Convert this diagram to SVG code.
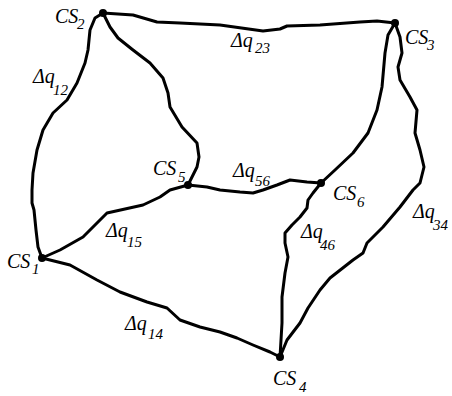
<svg xmlns="http://www.w3.org/2000/svg" width="452" height="396" viewBox="0 0 452 396">
<style>
.e{fill:none;stroke:#000;stroke-width:3;stroke-linejoin:round;stroke-linecap:round}
.n{fill:#000}
text{font-family:"Liberation Serif","Times New Roman",serif;font-style:italic;fill:#000}
.m{font-size:20px}
.s{font-size:15px}
</style>
<rect width="452" height="396" fill="#fff"/>
<g id="connectors">
<polyline id="e23" class="e" points="103,13 133,15 157,22 180,23 220,25 263,31 280,29 287,26 320,25 360,22 377,21 395,23"/>
<polyline id="e12" class="e" points="103,13 95,18 90,30 88,50 85,63 77,83 67,100 53,113 43,130 37,150 33,173 32,190 32,203 34,210 36,230 38,247 42,258"/>
<polyline id="e25" class="e" points="103,13 110,27 118,38 133,50 150,63 163,78 168,93 170,107 182,127 197,143 199,157 197,167 192,177 188,185"/>
<polyline id="e56" class="e" points="188,185 207,187 220,190 240,192 253,193 263,190 277,185 290,180 307,182 321,183"/>
<polyline id="e36" class="e" points="395,23 388,35 385,53 382,87 377,110 368,133 353,153 335,170 321,183"/>
<polyline id="e34" class="e" points="395,23 400,37 402,53 398,67 400,80 410,97 417,110 415,133 420,150 424,167 420,183 413,190 400,207 383,227 367,243 363,253 353,260 330,278 320,290 308,308 300,323 287,340 280,357"/>
<polyline id="e46" class="e" points="321,183 313,193 308,200 307,208 300,217 292,225 285,233 285,243 288,257 285,273 282,297 282,323 280,357"/>
<polyline id="e15" class="e" points="188,185 170,190 160,197 143,205 107,213 97,223 83,237 60,250 42,258"/>
<polyline id="e14" class="e" points="42,258 70,265 97,280 120,292 147,302 167,308 180,320 200,327 220,332 237,338 253,345 270,352 280,357"/>
</g>
<g id="CS1"><circle class="n" cx="42" cy="258" r="4"/><text><tspan class="m" x="7" y="268">CS</tspan><tspan class="s" x="32" y="274">1</tspan></text></g>
<g id="CS2"><circle class="n" cx="103" cy="13" r="4"/><text><tspan class="m" x="55" y="23">CS</tspan><tspan class="s" x="77" y="29">2</tspan></text></g>
<g id="CS3"><circle class="n" cx="395" cy="23" r="4"/><text><tspan class="m" x="405" y="44">CS</tspan><tspan class="s" x="427" y="50">3</tspan></text></g>
<g id="CS4"><circle class="n" cx="280" cy="357" r="4"/><text><tspan class="m" x="273" y="385">CS</tspan><tspan class="s" x="299" y="392">4</tspan></text></g>
<g id="CS5"><circle class="n" cx="188" cy="185" r="4"/><text><tspan class="m" x="153" y="175">CS</tspan><tspan class="s" x="178" y="182">5</tspan></text></g>
<g id="CS6"><circle class="n" cx="321" cy="183" r="4"/><text><tspan class="m" x="333" y="200">CS</tspan><tspan class="s" x="357" y="207">6</tspan></text></g>
<g id="labels">
<text><tspan class="m" x="33" y="83">Δq</tspan><tspan class="s" x="53" y="95">12</tspan></text>
<text><tspan class="m" x="231" y="47">Δq</tspan><tspan class="s" x="255" y="53">23</tspan></text>
<text><tspan class="m" x="233" y="177">Δq</tspan><tspan class="s" x="255" y="186">56</tspan></text>
<text><tspan class="m" x="106" y="237">Δq</tspan><tspan class="s" x="127" y="247">15</tspan></text>
<text><tspan class="m" x="125" y="330">Δq</tspan><tspan class="s" x="148" y="339">14</tspan></text>
<text><tspan class="m" x="301" y="238">Δq</tspan><tspan class="s" x="320" y="250">46</tspan></text>
<text><tspan class="m" x="413" y="218">Δq</tspan><tspan class="s" x="433" y="230">34</tspan></text>
</g>
</svg>
